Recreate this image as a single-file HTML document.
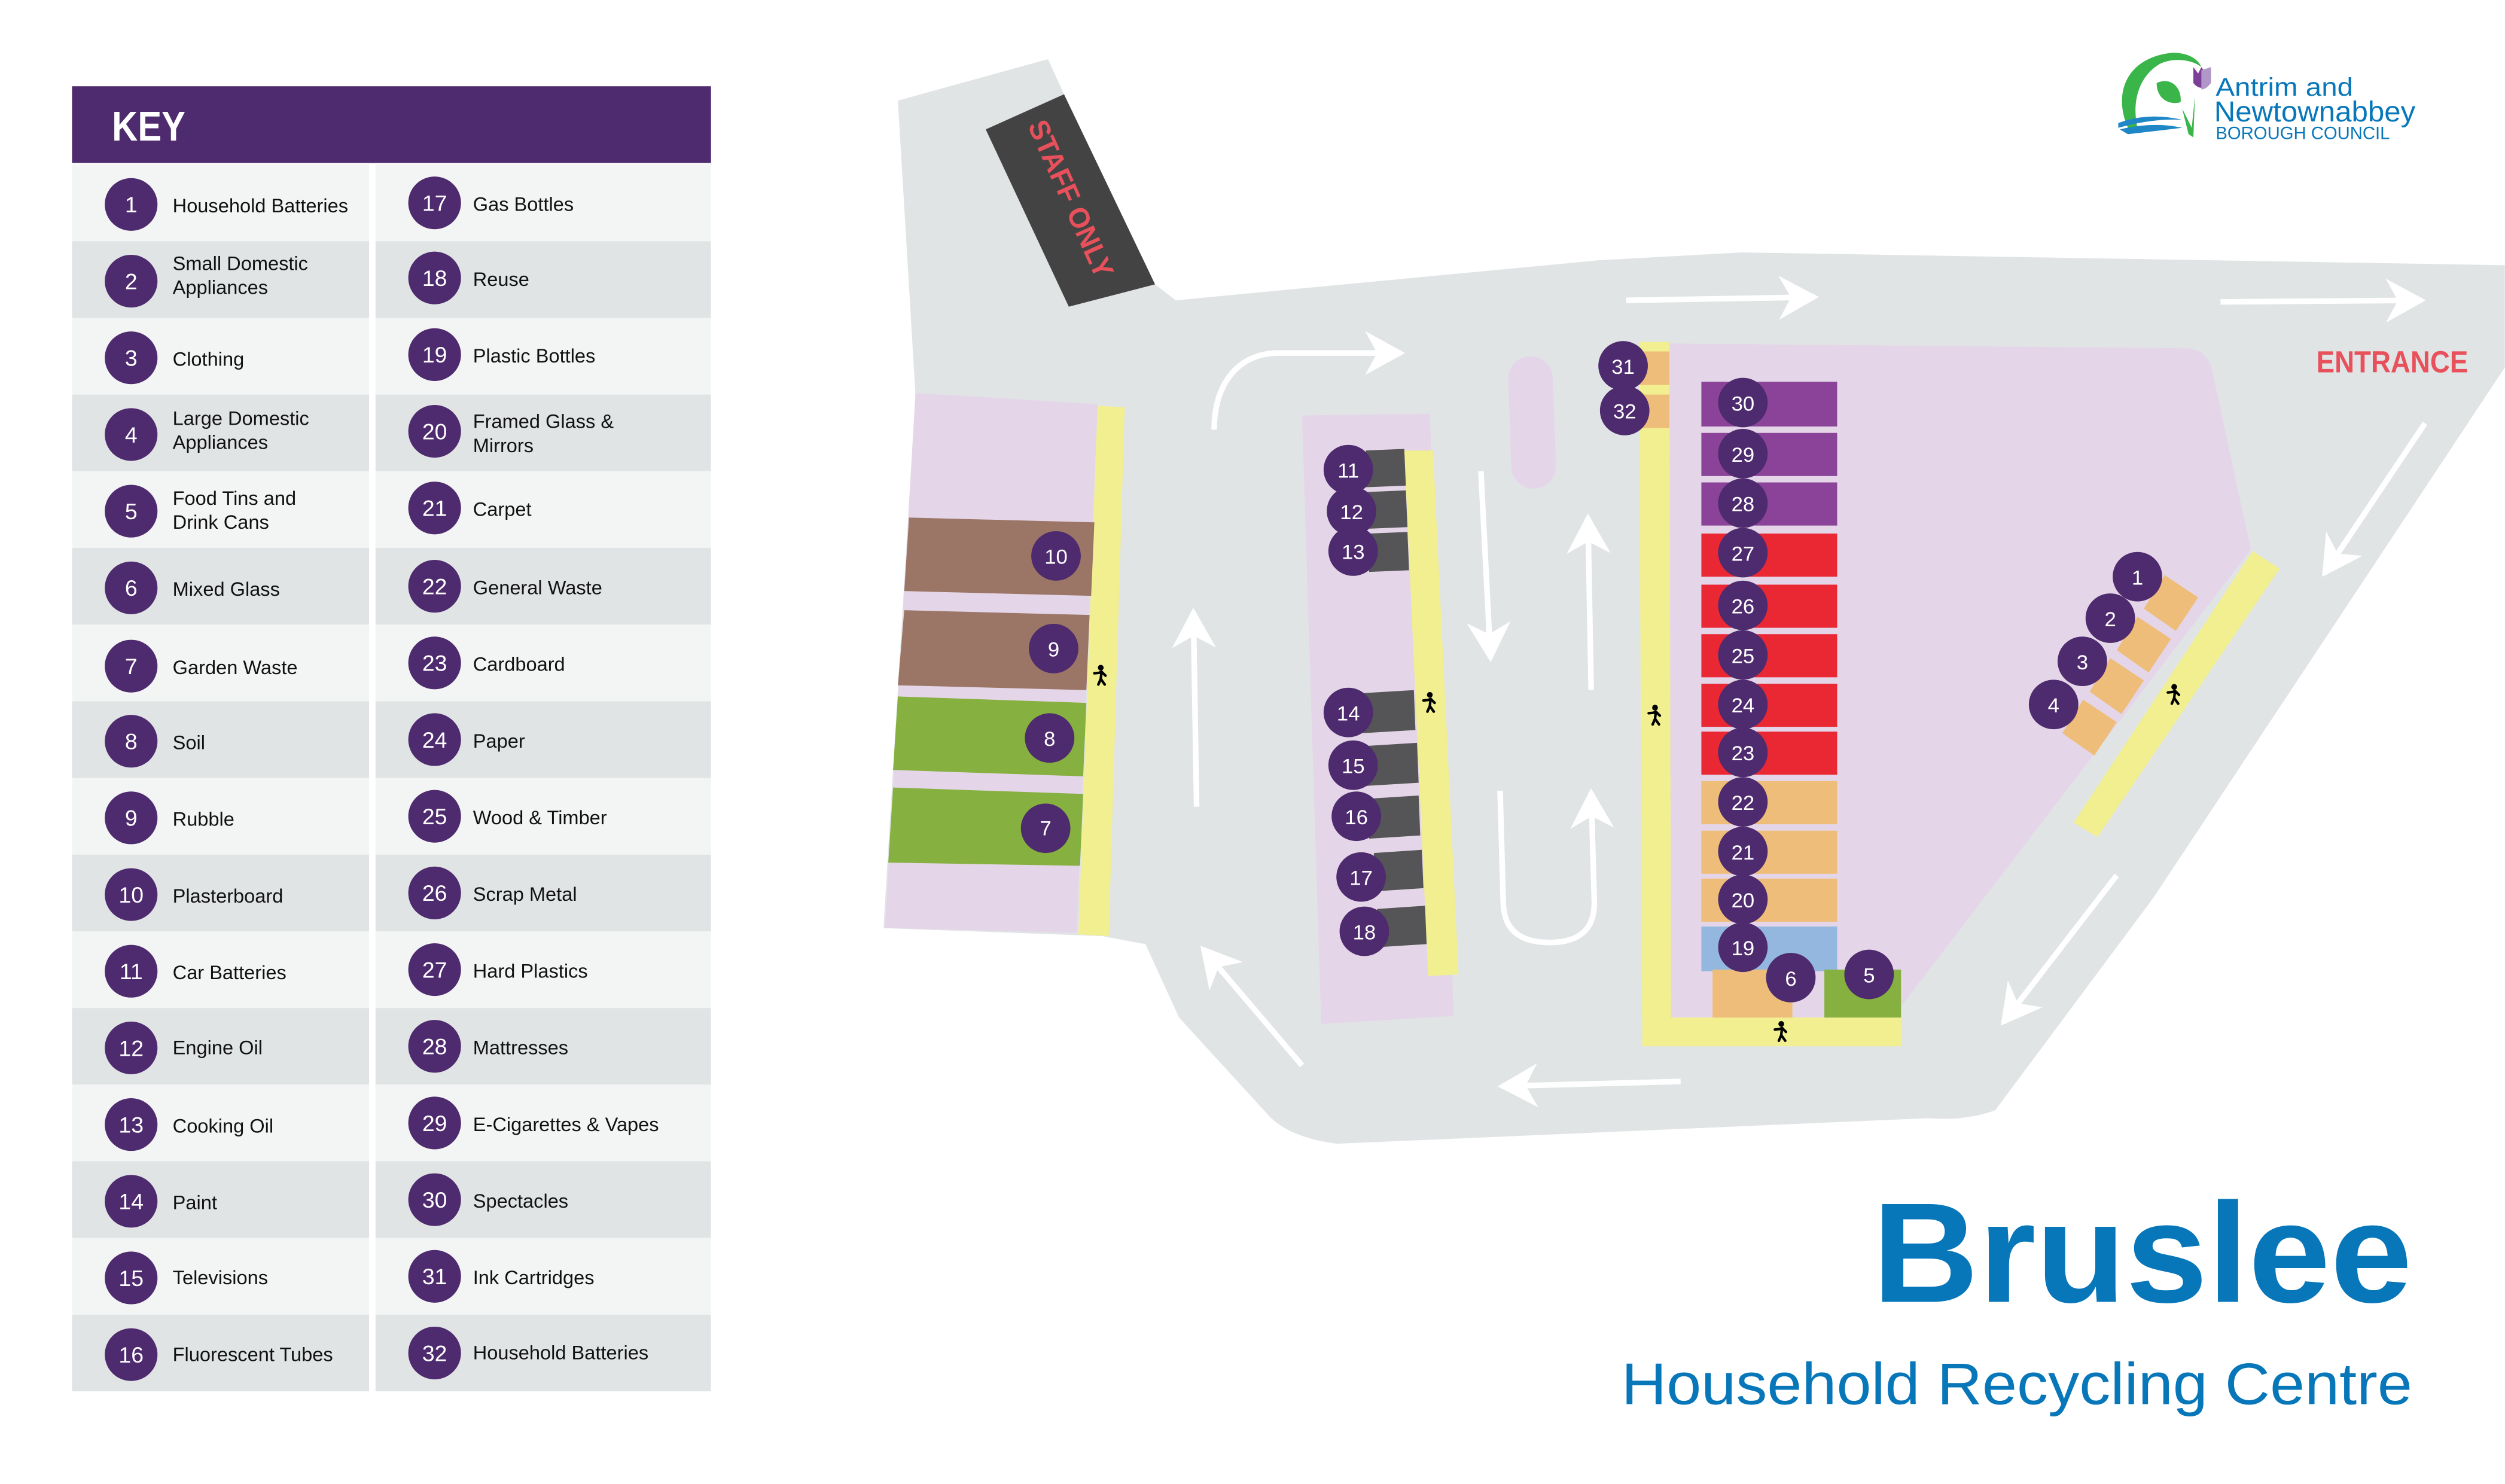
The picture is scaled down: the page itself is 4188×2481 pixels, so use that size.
<!DOCTYPE html>
<html><head><meta charset="utf-8"><style>
html,body{margin:0;padding:0;background:#fff;}
svg{display:block;}
text{font-family:"Liberation Sans",sans-serif;}
</style></head><body>
<svg xmlns="http://www.w3.org/2000/svg" width="4188" height="2481" viewBox="0 0 1568 929">
<defs>
<marker id="ah" markerUnits="userSpaceOnUse" markerWidth="30" markerHeight="30" viewBox="-20 -12 22 24" refX="0" refY="0" orient="auto">
<path d="M2,0 L-18,-11 L-12,0 L-18,11 Z" fill="#fff"/>
</marker>
<g id="man"><circle cx="0" cy="-6" r="1.8" fill="#000"/><path d="M-4,-2.5 L-1,-2.8 L0.5,-3.5 L3,-1 M0.5,-3.5 L0,1 L-1.5,4.5 M0,1 L2.5,4.5" stroke="#000" stroke-width="1.6" fill="none" stroke-linecap="round" stroke-linejoin="round"/></g>
</defs>
<rect width="1568" height="929" fill="#fff"/>

<!-- KEY -->
<rect x="45" y="54" width="400" height="48" fill="#4e2a6e"/>
<text x="70" y="88" font-size="26" font-weight="bold" fill="#fff" textLength="46" lengthAdjust="spacingAndGlyphs">KEY</text>
<g>
<rect x="45" y="103" width="186" height="48" fill="#f3f4f4"/><rect x="235" y="103" width="210" height="48" fill="#f3f4f4"/>
<rect x="45" y="151" width="186" height="48" fill="#e1e4e5"/><rect x="235" y="151" width="210" height="48" fill="#e1e4e5"/>
<rect x="45" y="199" width="186" height="48" fill="#f3f4f4"/><rect x="235" y="199" width="210" height="48" fill="#f3f4f4"/>
<rect x="45" y="247" width="186" height="48" fill="#e1e4e5"/><rect x="235" y="247" width="210" height="48" fill="#e1e4e5"/>
<rect x="45" y="295" width="186" height="48" fill="#f3f4f4"/><rect x="235" y="295" width="210" height="48" fill="#f3f4f4"/>
<rect x="45" y="343" width="186" height="48" fill="#e1e4e5"/><rect x="235" y="343" width="210" height="48" fill="#e1e4e5"/>
<rect x="45" y="391" width="186" height="48" fill="#f3f4f4"/><rect x="235" y="391" width="210" height="48" fill="#f3f4f4"/>
<rect x="45" y="439" width="186" height="48" fill="#e1e4e5"/><rect x="235" y="439" width="210" height="48" fill="#e1e4e5"/>
<rect x="45" y="487" width="186" height="48" fill="#f3f4f4"/><rect x="235" y="487" width="210" height="48" fill="#f3f4f4"/>
<rect x="45" y="535" width="186" height="48" fill="#e1e4e5"/><rect x="235" y="535" width="210" height="48" fill="#e1e4e5"/>
<rect x="45" y="583" width="186" height="48" fill="#f3f4f4"/><rect x="235" y="583" width="210" height="48" fill="#f3f4f4"/>
<rect x="45" y="631" width="186" height="48" fill="#e1e4e5"/><rect x="235" y="631" width="210" height="48" fill="#e1e4e5"/>
<rect x="45" y="679" width="186" height="48" fill="#f3f4f4"/><rect x="235" y="679" width="210" height="48" fill="#f3f4f4"/>
<rect x="45" y="727" width="186" height="48" fill="#e1e4e5"/><rect x="235" y="727" width="210" height="48" fill="#e1e4e5"/>
<rect x="45" y="775" width="186" height="48" fill="#f3f4f4"/><rect x="235" y="775" width="210" height="48" fill="#f3f4f4"/>
<rect x="45" y="823" width="186" height="48" fill="#e1e4e5"/><rect x="235" y="823" width="210" height="48" fill="#e1e4e5"/>
</g>
<g fill="#4e2a6e">
<circle cx="82" cy="128" r="16.5"/><circle cx="272" cy="127" r="16.5"/>
<circle cx="82" cy="176" r="16.5"/><circle cx="272" cy="174" r="16.5"/>
<circle cx="82" cy="224" r="16.5"/><circle cx="272" cy="222" r="16.5"/>
<circle cx="82" cy="272" r="16.5"/><circle cx="272" cy="270" r="16.5"/>
<circle cx="82" cy="320" r="16.5"/><circle cx="272" cy="318" r="16.5"/>
<circle cx="82" cy="368" r="16.5"/><circle cx="272" cy="367" r="16.5"/>
<circle cx="82" cy="417" r="16.5"/><circle cx="272" cy="415" r="16.5"/>
<circle cx="82" cy="464" r="16.5"/><circle cx="272" cy="463" r="16.5"/>
<circle cx="82" cy="512" r="16.5"/><circle cx="272" cy="511" r="16.5"/>
<circle cx="82" cy="560" r="16.5"/><circle cx="272" cy="559" r="16.5"/>
<circle cx="82" cy="608" r="16.5"/><circle cx="272" cy="607" r="16.5"/>
<circle cx="82" cy="656" r="16.5"/><circle cx="272" cy="655" r="16.5"/>
<circle cx="82" cy="704" r="16.5"/><circle cx="272" cy="703" r="16.5"/>
<circle cx="82" cy="752" r="16.5"/><circle cx="272" cy="751" r="16.5"/>
<circle cx="82" cy="800" r="16.5"/><circle cx="272" cy="799" r="16.5"/>
<circle cx="82" cy="848" r="16.5"/><circle cx="272" cy="847" r="16.5"/>
</g>
<g fill="#fff" font-size="14" text-anchor="middle">
<text x="82" y="133">1</text><text x="272" y="132">17</text>
<text x="82" y="181">2</text><text x="272" y="179">18</text>
<text x="82" y="229">3</text><text x="272" y="227">19</text>
<text x="82" y="277">4</text><text x="272" y="275">20</text>
<text x="82" y="325">5</text><text x="272" y="323">21</text>
<text x="82" y="373">6</text><text x="272" y="372">22</text>
<text x="82" y="422">7</text><text x="272" y="420">23</text>
<text x="82" y="469">8</text><text x="272" y="468">24</text>
<text x="82" y="517">9</text><text x="272" y="516">25</text>
<text x="82" y="565">10</text><text x="272" y="564">26</text>
<text x="82" y="613">11</text><text x="272" y="612">27</text>
<text x="82" y="661">12</text><text x="272" y="660">28</text>
<text x="82" y="709">13</text><text x="272" y="708">29</text>
<text x="82" y="757">14</text><text x="272" y="756">30</text>
<text x="82" y="805">15</text><text x="272" y="804">31</text>
<text x="82" y="853">16</text><text x="272" y="852">32</text>
</g>
<g fill="#111" font-size="12.2">
<text x="108" y="133">Household Batteries</text><text x="296" y="132">Gas Bottles</text>
<text x="108" y="169">Small Domestic</text><text x="108" y="184">Appliances</text><text x="296" y="179">Reuse</text>
<text x="108" y="229">Clothing</text><text x="296" y="227">Plastic Bottles</text>
<text x="108" y="266">Large Domestic</text><text x="108" y="281">Appliances</text><text x="296" y="268">Framed Glass &amp;</text><text x="296" y="283">Mirrors</text>
<text x="108" y="316">Food Tins and</text><text x="108" y="331">Drink Cans</text><text x="296" y="323">Carpet</text>
<text x="108" y="373">Mixed Glass</text><text x="296" y="372">General Waste</text>
<text x="108" y="422">Garden Waste</text><text x="296" y="420">Cardboard</text>
<text x="108" y="469">Soil</text><text x="296" y="468">Paper</text>
<text x="108" y="517">Rubble</text><text x="296" y="516">Wood &amp; Timber</text>
<text x="108" y="565">Plasterboard</text><text x="296" y="564">Scrap Metal</text>
<text x="108" y="613">Car Batteries</text><text x="296" y="612">Hard Plastics</text>
<text x="108" y="660">Engine Oil</text><text x="296" y="660">Mattresses</text>
<text x="108" y="709">Cooking Oil</text><text x="296" y="708">E-Cigarettes &amp; Vapes</text>
<text x="108" y="757">Paint</text><text x="296" y="756">Spectacles</text>
<text x="108" y="804">Televisions</text><text x="296" y="804">Ink Cartridges</text>
<text x="108" y="852">Fluorescent Tubes</text><text x="296" y="851">Household Batteries</text>
</g>

<!-- ROAD -->
<path d="M562,63 L656,37 L666,59 L723,178 L736,188 L1000,163 L1090,158 L1568,166 L1568,230 L1348,562 L1249,695 Q1230,702 1207,700 L837,716 Q805,712 792,696 L738,637 L717,591 L711,590 L690,586 L553,581 L573,247 Z" fill="#e1e4e5"/>
<!-- staff only -->
<polygon points="617,81 666,59 723,178 669,192" fill="#434343"/>
<text transform="translate(669,125) rotate(66)" font-size="18" font-weight="bold" fill="#e8505b" text-anchor="middle" dominant-baseline="middle" textLength="106" lengthAdjust="spacingAndGlyphs">STAFF ONLY</text>

<!-- left zone -->
<polygon points="573,246 687,253 674,584 554,581" fill="#e4d6e8"/>
<polygon points="687,254 704,255 694,586 675,585" fill="#f1ef8f"/>
<polygon points="569,324 685,327 683,373 566,370" fill="#9b7565"/>
<polygon points="566,382 682,385 680,432 562,429" fill="#9b7565"/>
<polygon points="562,436 680,440 678,486 559,482" fill="#86b03f"/>
<polygon points="559,493 678,497 676,542 556,540" fill="#86b03f"/>
<use href="#man" x="689" y="424"/>

<!-- middle zone -->
<polygon points="815,260 895,259 910,636 827,641" fill="#e4d6e8"/>
<polygon points="879,282 897,282 913,610 894,611" fill="#f1ef8f"/>
<g fill="#555557">
<polygon points="855,282 879,281 880,304 855,305"/>
<polygon points="856,308 880,307 881,330 856,331"/>
<polygon points="857,334 881,333 882,357 857,358"/>
<polygon points="852,434 885,432 886,457 852,459"/>
<polygon points="855,467 887,465 888,490 855,492"/>
<polygon points="857,500 888,498 889,523 857,525"/>
<polygon points="860,534 890,532 891,556 860,558"/>
<polygon points="862,569 892,567 893,591 862,593"/>
</g>
<use href="#man" x="895" y="441"/>
<rect x="945" y="223" width="28" height="83" rx="14" fill="#e4d6e8" transform="rotate(-2 959 264)"/>

<!-- right zone -->
<path d="M1045,215 L1370,218 Q1383,220 1385,233 L1409,344 L1190,630 L1190,637 L1045,640 Z" fill="#e4d6e8"/>
<polygon points="1026,214 1045,214 1046,637 1190,637 1190,655 1028,655" fill="#f1ef8f"/>
<rect x="1026" y="220" width="19" height="21" fill="#efbd7a"/>
<rect x="1026" y="247" width="19" height="21" fill="#efbd7a"/>
<g>
<rect x="1065" y="239" width="85" height="28" fill="#8a4399"/>
<rect x="1065" y="271" width="85" height="27" fill="#8a4399"/>
<rect x="1065" y="302" width="85" height="27" fill="#8a4399"/>
<rect x="1065" y="334" width="85" height="27" fill="#e92834"/>
<rect x="1065" y="366" width="85" height="27" fill="#e92834"/>
<rect x="1065" y="397" width="85" height="27" fill="#e92834"/>
<rect x="1065" y="428" width="85" height="27" fill="#e92834"/>
<rect x="1065" y="458" width="85" height="27" fill="#e92834"/>
<rect x="1065" y="489" width="85" height="27" fill="#efbd7a"/>
<rect x="1065" y="520" width="85" height="27" fill="#efbd7a"/>
<rect x="1065" y="550" width="85" height="27" fill="#efbd7a"/>
<rect x="1065" y="580" width="85" height="28" fill="#94b7e0"/>
<rect x="1072" y="607" width="50" height="30" fill="#efbd7a"/>
<rect x="1142" y="607" width="48" height="30" fill="#86b03f"/>
</g>
<use href="#man" x="1036" y="449"/>
<use href="#man" x="1115" y="647"/>
<polygon points="1410,345 1427,356 1313,524 1298,515" fill="#f1ef8f"/>
<g fill="#efbd7a">
<polygon points="1355,360 1376,374 1362,395 1342,381"/>
<polygon points="1338,386 1359,400 1345,421 1325,407"/>
<polygon points="1321,412 1342,426 1328,447 1308,433"/>
<polygon points="1304,438 1325,452 1311,473 1291,459"/>
</g>
<use href="#man" x="1361" y="436"/>

<!-- arrows -->
<g stroke="#fff" stroke-width="3.5" fill="none" marker-end="url(#ah)">
<path d="M760,269 C760,238 777,221 800,221 L877,221"/>
<path d="M927,295 L933,412"/>
<path d="M996,432 L994,324"/>
<path d="M749,505 L747,383"/>
<path d="M939,495 L941,566 Q942,590 970,590 Q998,590 998,565 L996,496"/>
<path d="M1018,188 L1136,186"/>
<path d="M1390,189 L1516,188"/>
<path d="M1518,265 L1455,359"/>
<path d="M1325,548 L1254,640"/>
<path d="M1052,677 L940,680"/>
<path d="M815,667 L753,594"/>
</g>

<!-- map circles -->
<g fill="#4e2a6e">
<circle cx="661" cy="348" r="15.5"/><circle cx="659.5" cy="406" r="15.5"/><circle cx="657" cy="462" r="15.5"/><circle cx="654.5" cy="518.5" r="15.5"/>
<circle cx="844" cy="294" r="15.5"/><circle cx="846" cy="320" r="15.5"/><circle cx="847" cy="345" r="15.5"/>
<circle cx="844" cy="446" r="15.5"/><circle cx="847" cy="479" r="15.5"/><circle cx="849" cy="511" r="15.5"/><circle cx="852" cy="549" r="15.5"/><circle cx="854" cy="583" r="15.5"/>
<circle cx="1016" cy="229" r="15.5"/><circle cx="1017" cy="257" r="15.5"/>
<circle cx="1091" cy="252" r="15.5"/><circle cx="1091" cy="284" r="15.5"/><circle cx="1091" cy="315" r="15.5"/><circle cx="1091" cy="346" r="15.5"/>
<circle cx="1091" cy="379" r="15.5"/><circle cx="1091" cy="410" r="15.5"/><circle cx="1091" cy="441" r="15.5"/><circle cx="1091" cy="471" r="15.5"/>
<circle cx="1091" cy="502" r="15.5"/><circle cx="1091" cy="533" r="15.5"/><circle cx="1091" cy="563" r="15.5"/><circle cx="1091" cy="593" r="15.5"/>
<circle cx="1121" cy="612" r="15.5"/><circle cx="1170" cy="610" r="15.5"/>
<circle cx="1338" cy="361" r="15.5"/><circle cx="1321" cy="387" r="15.5"/><circle cx="1303.5" cy="414" r="15.5"/><circle cx="1285.5" cy="441" r="15.5"/>
</g>
<g fill="#fff" font-size="13" text-anchor="middle">
<text x="661" y="353">10</text><text x="659.5" y="411">9</text><text x="657" y="467">8</text><text x="654.5" y="523">7</text>
<text x="844" y="299">11</text><text x="846" y="325">12</text><text x="847" y="350">13</text>
<text x="844" y="451">14</text><text x="847" y="484">15</text><text x="849" y="516">16</text><text x="852" y="554">17</text><text x="854" y="588">18</text>
<text x="1016" y="234">31</text><text x="1017" y="262">32</text>
<text x="1091" y="257">30</text><text x="1091" y="289">29</text><text x="1091" y="320">28</text><text x="1091" y="351">27</text>
<text x="1091" y="384">26</text><text x="1091" y="415">25</text><text x="1091" y="446">24</text><text x="1091" y="476">23</text>
<text x="1091" y="507">22</text><text x="1091" y="538">21</text><text x="1091" y="568">20</text><text x="1091" y="598">19</text>
<text x="1121" y="617">6</text><text x="1170" y="615">5</text>
<text x="1338" y="366">1</text><text x="1321" y="392">2</text><text x="1303.5" y="419">3</text><text x="1285.5" y="446">4</text>
</g>

<text x="1450" y="233" font-size="19" font-weight="bold" fill="#e8505b" textLength="95" lengthAdjust="spacingAndGlyphs">ENTRANCE</text>

<!-- logo -->
<path d="M1333,82 C1322,60 1330,36 1360,33 C1370,33 1376,37 1378,42 C1372,37 1360,36 1352,40 C1340,47 1334,62 1338,80 Z" fill="#3ab54a"/>
<path d="M1350,52 C1358,48 1366,54 1365,64 C1358,66 1350,62 1350,52 Z" fill="#3ab54a"/>
<path d="M1370,84 L1366,68 L1372,80 L1374,60 L1373,86 Z" fill="#3ab54a"/>
<path d="M1373,42 L1376,46 L1378,42 L1381,46 L1384,42 L1384,52 Q1378,58 1373,52 Z" fill="#7c3f98"/>
<path d="M1378,44 L1384,42 L1384,52 Q1381,56 1378,56 Z" fill="#b197c8"/>
<path d="M1326,77 Q1345,70 1366,75 Q1348,74 1326,80 Z M1327,81 Q1348,76 1366,80 Q1350,82 1332,84 Z" fill="#1f87c6"/>
<text x="1387" y="60" font-size="16" fill="#0877b9" textLength="86" lengthAdjust="spacingAndGlyphs">Antrim and</text>
<text x="1386" y="76" font-size="18" fill="#0877b9" textLength="126" lengthAdjust="spacingAndGlyphs">Newtownabbey</text>
<text x="1387" y="87" font-size="11" fill="#0877b9" textLength="109" lengthAdjust="spacingAndGlyphs">BOROUGH COUNCIL</text>

<!-- title -->
<text x="1172" y="815" font-size="89" font-weight="bold" fill="#0877b9" textLength="338" lengthAdjust="spacingAndGlyphs">Bruslee</text>
<text x="1015" y="879" font-size="37" fill="#0877b9" textLength="495" lengthAdjust="spacingAndGlyphs">Household Recycling Centre</text>
</svg>
</body></html>
